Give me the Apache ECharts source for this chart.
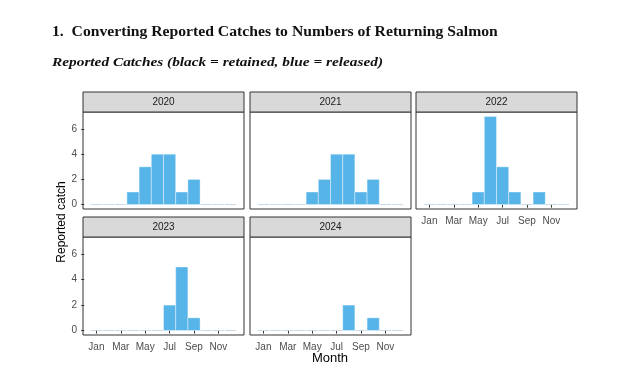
<!DOCTYPE html>
<html>
<head>
<meta charset="utf-8">
<script src="https://cdn.jsdelivr.net/npm/echarts@6/dist/echarts.min.js"></script>
<style>
html,body{margin:0;padding:0;background:#fff;}
#chart{width:643px;height:381px;}
</style>
</head>
<body>
<div id="chart"></div>
<script>
// ---- data ----
const monthLabels = ['Jan','Feb','Mar','Apr','May','Jun','Jul','Aug','Sep','Oct','Nov','Dec'];
const years = ['2020','2021','2022','2023','2024'];
const catch2020 = [0,0,0,1,3,4,4,1,2,0,0,0];
const catch2021 = [0,0,0,0,1,2,4,4,1,2,0,0];
const catch2022 = [0,0,0,0,1,7,3,1,0,1,0,0];
const catch2023 = [0,0,0,0,0,0,2,5,1,0,0,0];
const catch2024 = [0,0,0,0,0,0,0,2,0,1,0,0];
const yTickValues = [0,2,4,6];
const xTickValues = [1,3,5,7,9,11];
const titleText = '1.  Converting Reported Catches to Numbers of Returning Salmon';
const subtitleText = 'Reported Catches (black = retained, blue = released)';

const seriesData = [catch2020, catch2021, catch2022, catch2023, catch2024];

// ---- layout ----
const panels = [
  {left:83,  top:112, width:161, height:97, showX:false, showY:true},
  {left:250, top:112, width:161, height:97, showX:false, showY:false},
  {left:416, top:112, width:161, height:97, showX:true,  showY:false},
  {left:83,  top:237, width:161, height:98, showX:true,  showY:true},
  {left:250, top:237, width:161, height:98, showX:true,  showY:false}
];
const stripH = 20;
const labelColor = '#4D4D4D';
const barColor = '#56B4E9';

const grids = [], xAxes = [], yAxes = [], series = [], graphics = [];
panels.forEach((p, i) => {
  grids.push({left:p.left, top:p.top, width:p.width, height:p.height,
    show:true, borderColor:'#333333', borderWidth:1, backgroundColor:'#ffffff', containLabel:false});
  xAxes.push({
    gridIndex:i, type:'value', min:-0.1, max:13.1,
    axisLine:{show:false},
    splitLine:{show:false},
    axisTick:{show:p.showX, length:3, lineStyle:{color:'#333333'}, customValues:xTickValues},
    axisLabel:{show:p.showX, customValues:xTickValues, color:labelColor, fontSize:10, margin:7,
      fontFamily:'Liberation Sans, Arial, sans-serif',
      formatter:(v)=>monthLabels[Math.round(v)-1]}
  });
  yAxes.push({
    gridIndex:i, type:'value', min:-0.35, max:7.35,
    axisLine:{show:false},
    splitLine:{show:false},
    axisTick:{show:p.showY, length:3, lineStyle:{color:'#333333'}, customValues:yTickValues},
    axisLabel:{show:p.showY, customValues:yTickValues, color:labelColor, fontSize:10, margin:6,
      fontFamily:'Liberation Sans, Arial, sans-serif'}
  });
  series.push({
    type:'custom', xAxisIndex:i, yAxisIndex:i,
    data: seriesData[i].map((v, k) => [k + 1, v]),
    encode:{x:0, y:1},
    clip:true,
    renderItem:(params, api) => {
      const m = api.value(0), v = api.value(1);
      if (v === 0) {
        const a = api.coord([m - 0.46, 0]);
        const b = api.coord([m + 0.46, 0]);
        return {type:'line', shape:{x1:a[0], y1:a[1], x2:b[0], y2:b[1]},
          style:{stroke:'#C9D9E4', lineWidth:1}};
      }
      const p0 = api.coord([m - 0.5, v]);
      const p1 = api.coord([m + 0.5, 0]);
      return {type:'rect',
        shape:{x:p0[0], y:p0[1], width:p1[0]-p0[0], height:p1[1]-p0[1]},
        style:{fill:barColor, stroke:'#ffffff', lineWidth:0.4}};
    }
  });
  // strip
  graphics.push({type:'rect', shape:{x:p.left, y:p.top - stripH, width:p.width, height:stripH},
    style:{fill:'#D9D9D9', stroke:'#333333', lineWidth:1}, z:10});
  graphics.push({type:'text', x:p.left + p.width/2, y:p.top - stripH/2,
    style:{text:years[i], fill:'#1A1A1A', fontSize:10, fontFamily:'Liberation Sans, Arial, sans-serif',
      align:'center', verticalAlign:'middle'}, z:11});
});

graphics.push({type:'text', x:52, y:32, scaleX:1.045,
  style:{text:titleText, fill:'#111111', fontSize:15, fontWeight:'bold',
    fontFamily:'Liberation Serif, Times New Roman, serif', align:'left', verticalAlign:'middle'}});
graphics.push({type:'text', x:52, y:63, scaleX:1.18,
  style:{text:subtitleText, fill:'#111111', fontSize:13, fontWeight:'bold', fontStyle:'italic',
    fontFamily:'Liberation Serif, Times New Roman, serif', align:'left', verticalAlign:'middle'}});
graphics.push({type:'text', x:62, y:222, rotation:Math.PI/2,
  style:{text:'Reported catch', fill:'#000000', fontSize:12,
    fontFamily:'Liberation Sans, Arial, sans-serif', align:'center', verticalAlign:'middle'}});
graphics.push({type:'text', x:330, y:358,
  style:{text:'Month', fill:'#000000', fontSize:13,
    fontFamily:'Liberation Sans, Arial, sans-serif', align:'center', verticalAlign:'middle'}});

const chart = echarts.init(document.getElementById('chart'), null, {renderer:'canvas'});
chart.setOption({
  animation:false,
  backgroundColor:'#ffffff',
  grid:grids, xAxis:xAxes, yAxis:yAxes, series:series,
  graphic:graphics
});
</script>
</body>
</html>
